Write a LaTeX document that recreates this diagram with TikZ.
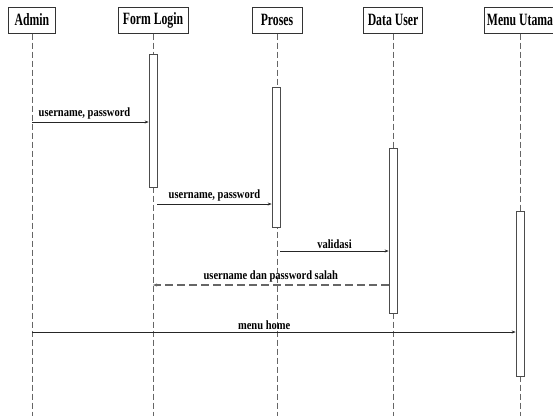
\documentclass[tikz,border=0pt]{standalone}
\usepackage{fontspec}
\setmainfont{Liberation Serif}
\usetikzlibrary{arrows.meta}
\newcommand{\hdtxt}[1]{\scalebox{1.02}[1.5]{\bfseries #1}}
\newcommand{\msgtxt}[1]{\scalebox{1}[1.2]{\bfseries #1}}

\begin{document}
\begin{tikzpicture}[x=1pt, y=1pt,
    head/.style={draw=black!80, line width=1pt, minimum height=26pt, inner sep=0pt, font=\fontsize{11.5}{12}\selectfont},
    act/.style={draw=black!70, fill=white, line width=0.7pt, minimum width=8pt, inner sep=0pt},
    life/.style={draw=black!60, dash pattern=on 6pt off 3pt, line width=0.7pt},
    msg/.style={draw=black!85, line width=0.9pt, -{Stealth[length=4pt,width=3pt]}},
    reply/.style={msg, draw=black!60, dash pattern=on 8pt off 4pt, line width=1.1pt},
    lbl/.style={font=\fontsize{10.5}{11}\selectfont, inner sep=2pt}
  ]
  \useasboundingbox (0,0) rectangle (553,-416);

  % peserta
  \node[head, minimum width=47pt] (admin) at (32,-20) {\hdtxt{Admin}};
  \node[head, minimum width=70pt] (formlogin) at (153,-20) {\hdtxt{Form Login}};
  \node[head, minimum width=50pt] (proses) at (277,-20) {\hdtxt{Proses}};
  \node[head, minimum width=59pt] (datauser) at (393,-20) {\hdtxt{Data User}};
  \node[head, minimum width=72pt] (menuutama) at (520,-20) {\hdtxt{Menu Utama}};

  \coordinate (bottom) at (0,-416);
  \foreach \p in {admin, formlogin, proses, datauser, menuutama}
    \draw[life] (\p.south) -- (\p |- bottom);

  % aktivasi
  \node[act, minimum height=133pt] (actFL) at (153,-120.5) {};
  \node[act, minimum height=140pt] (actPr) at (276,-157) {};
  \node[act, minimum height=165pt] (actDU) at (393,-230.5) {};
  \node[act, minimum height=165pt] (actMU) at (520,-293.5) {};

  % pesan
  \coordinate (y1) at (0,-122);
  \coordinate (y2) at (0,-204);
  \coordinate (y3) at (0,-251);
  \coordinate (y4) at (0,-285);
  \coordinate (y5) at (0,-332);

  \draw[msg] (admin |- y1) -- node[lbl, above, pos=0.45] {\msgtxt{username, password}} (actFL.west |- y1);
  \draw[msg] (actFL.east |- y2) -- node[lbl, above] {\msgtxt{username, password}} (actPr.west |- y2);
  \draw[msg] (actPr.east |- y3) -- node[lbl, above] {\msgtxt{validasi}} (actDU.west |- y3);
  \draw[reply] (actDU.west |- y4) -- node[lbl, above] {\msgtxt{username dan password salah}} (formlogin |- y4);
  \draw[msg] (admin |- y5) -- node[lbl, above, pos=0.48] {\msgtxt{menu home}} (actMU.west |- y5);
\end{tikzpicture}
\end{document}
